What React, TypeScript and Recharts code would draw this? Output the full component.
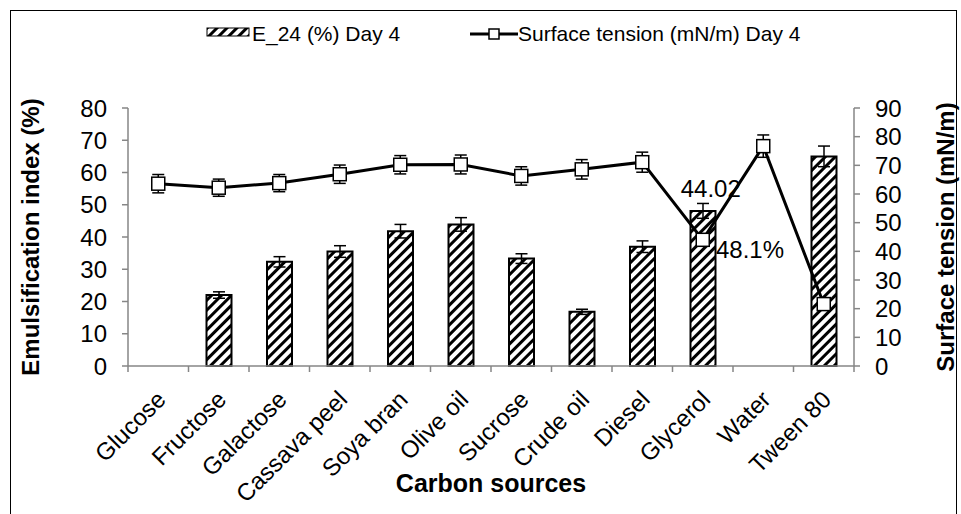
import React from 'react';
import { ComposedChart, Bar, Line, XAxis, YAxis, Legend, ErrorBar, LabelList } from 'recharts';

const FONT = '"Liberation Sans", Arial, Helvetica, sans-serif';
const AXIS = '#868686';

const categories = ['Glucose', 'Fructose', 'Galactose', 'Cassava peel', 'Soya bran', 'Olive oil', 'Sucrose', 'Crude oil', 'Diesel', 'Glycerol', 'Water', 'Tween 80'];
const e24Values: (number | null)[] = [null, 22.0, 32.3, 35.5, 41.8, 43.9, 33.3, 16.8, 37.0, 48.1, null, 65.0];
const e24Errors: (number | null)[] = [null, 1.0, 1.6, 1.8, 2.1, 2.1, 1.5, 0.8, 1.8, 2.3, null, 3.2];
const surfaceValues = [63.6, 62.2, 63.8, 66.9, 70.2, 70.3, 66.3, 68.6, 71.1, 44.02, 76.7, 21.6];
const surfaceErrors = [3.2, 3.0, 3.0, 3.2, 3.2, 3.3, 3.2, 3.4, 3.5, 1.5, 3.9, 1.0];
const leftTicks = [0, 10, 20, 30, 40, 50, 60, 70, 80];
const rightTicks = [0, 10, 20, 30, 40, 50, 60, 70, 80, 90];
const labeledCategory = 'Glycerol';

const barName = 'E_24 (%) Day 4';
const lineName = 'Surface tension (mN/m) Day 4';

const data = categories.map((name, i) => ({
  name,
  e24: e24Values[i],
  e24Err: e24Errors[i],
  st: surfaceValues[i],
  stErr: surfaceErrors[i],
  e24Label: name === labeledCategory && e24Values[i] != null ? `${e24Values[i]}%` : null,
  stLabel: name === labeledCategory ? `${surfaceValues[i]}` : null,
}));

const XTick = (props: any) => {
  const { x, y, payload, index } = props;
  const half = payload?.offset ?? 0;
  const idx = index ?? payload?.index;
  const tx = x + 9;
  const ty = y + 35;
  return (
    <g>
      <line x1={x - half} x2={x - half} y1={y} y2={y + 6} stroke={AXIS} strokeWidth={1.5} />
      {idx === categories.length - 1 && (
        <line x1={x + half} x2={x + half} y1={y} y2={y + 6} stroke={AXIS} strokeWidth={1.5} />
      )}
      <text x={tx} y={ty} transform={`rotate(-45, ${tx}, ${ty})`} textAnchor="end" fontSize={24} fontFamily={FONT} fill="#000">
        {payload.value}
      </text>
    </g>
  );
};

const SquareDot = (props: any) => {
  const { cx, cy, index } = props;
  if (cx == null || cy == null) return <g key={`d${index}`} />;
  return <rect key={`d${index}`} x={cx - 6.5} y={cy - 6.5} width={13} height={13} fill="#fff" stroke="#000" strokeWidth={1.5} />;
};

const BarValueLabel = (props: any) => {
  const { x, y, width, value } = props;
  if (value == null) return null;
  return (
    <text x={x + width + 0.5} y={y + 39} dominantBaseline="central" textAnchor="start" fontSize={24} fontFamily={FONT} fill="#000">
      {value}
    </text>
  );
};

const LineValueLabel = (props: any) => {
  const { x, y, value } = props;
  if (value == null) return null;
  return (
    <text x={x + 8} y={y - 51} dominantBaseline="central" textAnchor="middle" fontSize={24} fontFamily={FONT} fill="#000">
      {value}
    </text>
  );
};

const LegendContent = () => (
  <div style={{ position: 'relative', height: 88, fontFamily: FONT, fontSize: 21, color: '#000' }}>
    <svg width={44} height={10} style={{ position: 'absolute', left: 188, top: 7 }}>
      <defs>
        <pattern id="hatchLegend" patternUnits="userSpaceOnUse" width={7} height={7} patternTransform="rotate(45)">
          <rect x={0} y={0} width={7} height={7} fill="#fff" />
          <rect x={0} y={0} width={3} height={7} fill="#000" />
        </pattern>
      </defs>
      <rect x={1} y={1} width={42} height={8} fill="url(#hatchLegend)" stroke="#000" strokeWidth={1} />
    </svg>
    <span style={{ position: 'absolute', left: 234, top: 0, lineHeight: '28px', whiteSpace: 'nowrap' }}>{barName}</span>
    <svg width={50} height={14} style={{ position: 'absolute', left: 451, top: 7 }}>
      <line x1={1} x2={49} y1={7} y2={7} stroke="#000" strokeWidth={3} />
      <rect x={20} y={2} width={10} height={10} fill="#fff" stroke="#000" strokeWidth={1.5} />
    </svg>
    <span style={{ position: 'absolute', left: 500, top: 0, lineHeight: '28px', whiteSpace: 'nowrap' }}>{lineName}</span>
  </div>
);

const LeftTitle = (props: any) => {
  const vb = props.viewBox || {};
  const cx = vb.x + 12;
  const cy = vb.y + vb.height / 2;
  return (
    <text x={cx} y={cy} transform={`rotate(-90, ${cx}, ${cy})`} textAnchor="middle" dominantBaseline="central" fontSize={24} fontWeight="bold" fontFamily={FONT} fill="#000">
      Emulsification index (%)
    </text>
  );
};

const RightTitle = (props: any) => {
  const vb = props.viewBox || {};
  const cx = vb.x + 91;
  const cy = vb.y + vb.height / 2;
  return (
    <text x={cx} y={cy} transform={`rotate(-90, ${cx}, ${cy})`} textAnchor="middle" dominantBaseline="central" fontSize={24} fontWeight="bold" fontFamily={FONT} fill="#000">
      Surface tension (mN/m)
    </text>
  );
};

const XTitle = (props: any) => {
  const vb = props.viewBox || {};
  return (
    <text x={vb.x + vb.width / 2} y={vb.y + 117} textAnchor="middle" dominantBaseline="central" fontSize={25} fontWeight="bold" fontFamily={FONT} fill="#000">
      Carbon sources
    </text>
  );
};

export default function App() {
  return (
    <div style={{ position: 'absolute', left: 0, top: 0, width: 961, height: 514, background: '#fff', overflow: 'hidden' }}>
      <div style={{ position: 'absolute', left: 10, top: 10, width: 947, height: 520, border: '1px solid #000', boxSizing: 'border-box' }} />
      <ComposedChart
        width={961}
        height={514}
        data={data}
        margin={{ top: 20, right: 7, bottom: 18, left: 18 }}
        style={{ position: 'absolute', left: 0, top: 0, fontFamily: FONT }}
      >
        <defs>
          <pattern id="hatch" patternUnits="userSpaceOnUse" width={7} height={7} patternTransform="rotate(45)">
            <rect x={0} y={0} width={7} height={7} fill="#fff" />
            <rect x={0} y={0} width={3} height={7} fill="#000" />
          </pattern>
        </defs>
        <Legend verticalAlign="top" align="left" content={<LegendContent />} />
        <XAxis
          dataKey="name"
          type="category"
          height={130}
          interval={0}
          axisLine={{ stroke: AXIS, strokeWidth: 1.5 }}
          tickLine={false}
          tickSize={0}
          tickMargin={0}
          tick={<XTick />}
          label={XTitle}
        />
        <YAxis
          yAxisId="left"
          orientation="left"
          width={110}
          domain={[0, 80]}
          ticks={leftTicks}
          interval={0}
          axisLine={{ stroke: AXIS, strokeWidth: 1.5 }}
          tickLine={{ stroke: AXIS, strokeWidth: 1.5 }}
          tickSize={6}
          tickMargin={15}
          tick={{ fill: '#000', fontSize: 24, fontFamily: FONT }}
          label={LeftTitle}
        />
        <YAxis
          yAxisId="right"
          orientation="right"
          width={100}
          domain={[0, 90]}
          ticks={rightTicks}
          interval={0}
          axisLine={{ stroke: AXIS, strokeWidth: 1.5 }}
          tickLine={{ stroke: AXIS, strokeWidth: 1.5 }}
          tickSize={6}
          tickMargin={15}
          tick={{ fill: '#000', fontSize: 24, fontFamily: FONT, textAnchor: 'start' }}
          label={RightTitle}
        />
        <Bar yAxisId="left" dataKey="e24" name={barName} barSize={25} fill="url(#hatch)" stroke="#000" strokeWidth={2} isAnimationActive={false}>
          <ErrorBar dataKey="e24Err" width={6} stroke="#000" strokeWidth={1.5} direction="y" />
          <LabelList dataKey="e24Label" content={<BarValueLabel />} />
        </Bar>
        <Line
          yAxisId="right"
          dataKey="st"
          name={lineName}
          stroke="#000"
          strokeWidth={3}
          dot={SquareDot}
          activeDot={false}
          isAnimationActive={false}
        >
          <ErrorBar dataKey="stErr" width={6} stroke="#000" strokeWidth={1.5} direction="y" />
          <LabelList dataKey="stLabel" content={<LineValueLabel />} />
        </Line>
      </ComposedChart>
    </div>
  );
}
